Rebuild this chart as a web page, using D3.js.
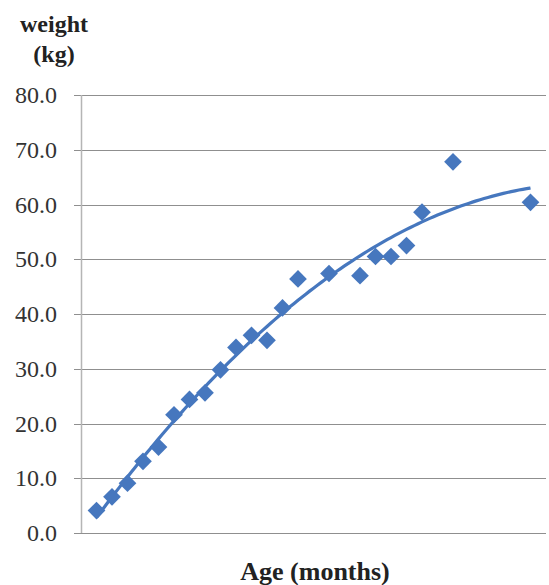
<!DOCTYPE html>
<html>
<head>
<meta charset="utf-8">
<script src="https://cdn.jsdelivr.net/npm/d3@7"></script>
<style>
  body { margin: 0; background: #fff; }
</style>
</head>
<body>
<svg id="chart" width="549" height="585"></svg>
<script>
// age in months and measured weight in kg
let ages = [1, 2, 3, 4, 5, 6, 7, 8, 9, 10, 11, 12, 13, 14, 16, 18, 19, 20, 21, 22, 24, 29];
let weights = [4.1, 6.6, 9.1, 13.1, 15.7, 21.6, 24.4, 25.6, 29.8, 33.9, 36.1, 35.2, 41.1, 46.4,
    47.4, 47.0, 50.5, 50.5, 52.5, 58.6, 67.8, 60.4];
let yTicks = [0, 10, 20, 30, 40, 50, 60, 70, 80];

const svg = d3.select('#chart');
const plotLeft = 81, plotRight = 546, plotTop = 95, plotBottom = 533;
const blue = '#4677be';
const serif = "'Liberation Serif', 'DejaVu Serif', serif";

let x = d3.scaleLinear().domain([0, 30]).range([plotLeft, plotRight]);
let y = d3.scaleLinear().domain([0, 80]).range([plotBottom, plotTop]);

// gridlines
svg.selectAll('.grid')
    .data(yTicks)
    .join('line')
    .attr('class', 'grid')
    .attr('x1', plotLeft - 7)
    .attr('x2', plotRight)
    .attr('y1', d => Math.round(y(d)) + 0.5)
    .attr('y2', d => Math.round(y(d)) + 0.5)
    .attr('stroke', '#8f8f8f')
    .attr('stroke-width', 1.2);

// y axis line
svg.append('line')
    .attr('x1', plotLeft + 0.5).attr('x2', plotLeft + 0.5)
    .attr('y1', plotTop).attr('y2', plotBottom)
    .attr('stroke', '#b5b5b5')
    .attr('stroke-width', 1.5);

// tick labels
svg.selectAll('.tick-label')
    .data(yTicks)
    .join('text')
    .attr('class', 'tick-label')
    .attr('x', 57)
    .attr('y', d => y(d) + 8)
    .attr('text-anchor', 'end')
    .attr('font-family', serif)
    .attr('font-size', 24)
    .attr('fill', '#333')
    .text(d => d.toFixed(1));

// quadratic trend line (least squares)
function polyFit(xs, ys) {
    let n = xs.length, s = [0, 0, 0, 0, 0], t = [0, 0, 0];
    for (let i = 0; i < n; i++) {
        for (let k = 0; k < 5; k++) s[k] += Math.pow(xs[i], k);
        for (let k = 0; k < 3; k++) t[k] += ys[i] * Math.pow(xs[i], k);
    }
    let m = [[s[0], s[1], s[2], t[0]], [s[1], s[2], s[3], t[1]], [s[2], s[3], s[4], t[2]]];
    for (let i = 0; i < 3; i++) {
        for (let j = i + 1; j < 3; j++) {
            let f = m[j][i] / m[i][i];
            for (let k = i; k < 4; k++) m[j][k] -= f * m[i][k];
        }
    }
    let c = [0, 0, 0];
    for (let i = 2; i >= 0; i--) {
        let v = m[i][3];
        for (let k = i + 1; k < 3; k++) v -= m[i][k] * c[k];
        c[i] = v / m[i][i];
    }
    return c;
}

let coef = polyFit(ages, weights);
let trend = d3.range(ages[0], ages[ages.length - 1] + 0.01, 0.25)
    .map(a => ({a: a, w: coef[0] + coef[1] * a + coef[2] * a * a}));

let line = d3.line()
    .x(d => x(d.a))
    .y(d => y(d.w))
    .curve(d3.curveBasis);

svg.append('path')
    .datum(trend)
    .attr('d', line)
    .attr('fill', 'none')
    .attr('stroke', blue)
    .attr('stroke-width', 3.2);

// diamond markers
svg.selectAll('.pt')
    .data(ages.map((a, i) => ({a: a, w: weights[i]})))
    .join('path')
    .attr('class', 'pt')
    .attr('d', d3.symbol().type(d3.symbolDiamond2).size(200))
    .attr('transform', d => `translate(${x(d.a)},${y(d.w)})`)
    .attr('fill', blue);

// axis titles
svg.append('text')
    .attr('x', 54).attr('y', 32)
    .attr('text-anchor', 'middle')
    .attr('font-family', serif)
    .attr('font-size', 24)
    .attr('font-weight', 'bold')
    .attr('fill', '#222')
    .text('weight');
svg.append('text')
    .attr('x', 54).attr('y', 62)
    .attr('text-anchor', 'middle')
    .attr('font-family', serif)
    .attr('font-size', 24)
    .attr('font-weight', 'bold')
    .attr('fill', '#222')
    .text('(kg)');

svg.append('text')
    .attr('x', 315).attr('y', 580)
    .attr('text-anchor', 'middle')
    .attr('font-family', serif)
    .attr('font-size', 26)
    .attr('font-weight', 'bold')
    .attr('fill', '#222')
    .text('Age (months)');
</script>
</body>
</html>
